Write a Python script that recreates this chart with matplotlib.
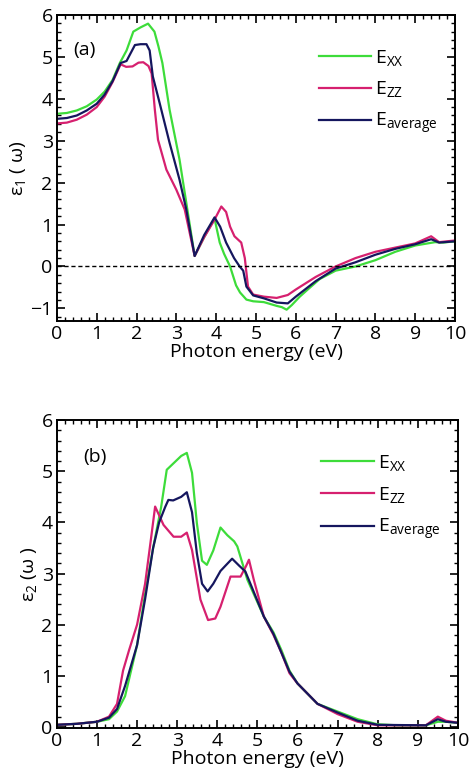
import matplotlib
matplotlib.use('Agg')
import matplotlib.pyplot as plt
from matplotlib.ticker import MultipleLocator

plt.rcParams['font.family'] = ['Open Sans', 'DejaVu Sans']
plt.rcParams['mathtext.default'] = 'regular'

# epsilon 1 (real part)
x1_xx = [0, 0.25, 0.5, 0.75, 1, 1.2, 1.4, 1.58, 1.75, 1.92, 2.1, 2.29, 2.45, 2.55, 2.65, 2.83, 3.08, 3.25, 3.46,
         3.7, 3.96, 4.09, 4.2, 4.35, 4.5, 4.6, 4.76, 4.93, 5.2, 5.52, 5.65, 5.77, 5.9, 6.1, 6.3, 6.6,
         7.0, 7.5, 8.0, 8.5, 9.0, 9.5, 9.7, 10]
e1_xx = [3.64, 3.66, 3.72, 3.82, 3.98, 4.17, 4.45, 4.85, 5.15, 5.6, 5.7, 5.79, 5.6, 5.25, 4.85, 3.74, 2.55, 1.52, 0.25,
         0.7, 1.14, 0.57, 0.3, 0.0, -0.45, -0.62, -0.79, -0.83, -0.85, -0.94, -0.97, -1.03, -0.92, -0.72, -0.55, -0.3,
         -0.1, 0.0, 0.15, 0.35, 0.5, 0.58, 0.57, 0.6]

x1_zz = [0, 0.25, 0.5, 0.75, 1, 1.2, 1.4, 1.6, 1.74, 1.9, 2.05, 2.17, 2.3, 2.38, 2.46, 2.54, 2.75, 3.0, 3.21, 3.46,
         3.7, 3.95, 4.13, 4.25, 4.35, 4.46, 4.63, 4.72, 4.8, 4.93, 5.2, 5.52, 5.8, 6.0, 6.5,
         7.0, 7.5, 8.0, 8.5, 9.0, 9.4, 9.6, 10]
e1_zz = [3.41, 3.43, 3.5, 3.62, 3.8, 4.05, 4.4, 4.82, 4.76, 4.77, 4.86, 4.87, 4.78, 4.6, 3.74, 3.02, 2.31, 1.83, 1.36, 0.25,
         0.7, 1.1, 1.43, 1.3, 0.95, 0.72, 0.57, 0.2, -0.48, -0.67, -0.72, -0.75, -0.68, -0.55, -0.25,
         0.0, 0.2, 0.35, 0.45, 0.55, 0.72, 0.58, 0.62]

x1_av = [0, 0.25, 0.5, 0.75, 1, 1.2, 1.4, 1.6, 1.75, 1.96, 2.1, 2.25, 2.33, 2.41, 2.58, 2.83, 3.08, 3.25, 3.46,
         3.7, 3.96, 4.1, 4.25, 4.45, 4.59, 4.68, 4.76, 4.93, 5.2, 5.52, 5.8, 6.0, 6.5,
         7.0, 7.5, 8.0, 8.5, 9.0, 9.4, 9.6, 10]
e1_av = [3.52, 3.54, 3.6, 3.72, 3.88, 4.1, 4.42, 4.85, 4.9, 5.28, 5.3, 5.3, 5.15, 4.53, 3.9, 2.95, 2.07, 1.36, 0.25,
         0.75, 1.17, 0.95, 0.57, 0.2, 0.0, -0.1, -0.48, -0.69, -0.76, -0.86, -0.88, -0.72, -0.35,
         -0.05, 0.1, 0.28, 0.42, 0.53, 0.65, 0.57, 0.6]

# epsilon 2 (imaginary part)
x2_xx = [0, 0.5, 1, 1.3, 1.5, 1.7, 2.0, 2.2, 2.4, 2.6, 2.74, 2.9, 3.1, 3.24, 3.37, 3.49, 3.62, 3.74,
         3.9, 4.08, 4.25, 4.42, 4.5, 4.75, 5.16, 5.4, 5.6, 5.8, 6.0, 6.5, 7.0, 7.5, 8.0, 8.5,
         9.2, 9.5, 9.7, 10]
e2_xx = [0.04, 0.06, 0.1, 0.15, 0.3, 0.6, 1.6, 2.6, 3.5, 4.3, 5.03, 5.15, 5.3, 5.36, 4.97, 3.99, 3.25, 3.17,
         3.45, 3.9, 3.75, 3.63, 3.53, 2.88, 2.16, 1.85, 1.5, 1.1, 0.85, 0.45, 0.3, 0.15, 0.05, 0.03,
         0.03, 0.1, 0.1, 0.08]

x2_zz = [0, 0.5, 1, 1.3, 1.5, 1.65, 1.8, 2.0, 2.2, 2.35, 2.45, 2.66, 2.91, 3.1, 3.24, 3.37, 3.58,
         3.77, 3.95, 4.08, 4.33, 4.58, 4.72, 4.79, 4.91, 5.16, 5.4, 5.6, 5.8, 6.0, 6.5,
         7.0, 7.5, 8.0, 9.2, 9.5, 9.7, 10]
e2_zz = [0.04, 0.06, 0.1, 0.2, 0.45, 1.1, 1.5, 2.0, 2.8, 3.7, 4.31, 3.95, 3.72, 3.72, 3.8, 3.46, 2.49,
         2.09, 2.12, 2.35, 2.94, 2.94, 3.15, 3.27, 2.88, 2.16, 1.8, 1.45, 1.05, 0.85, 0.45,
         0.25, 0.1, 0.03, 0.03, 0.2, 0.12, 0.08]

x2_av = [0, 0.5, 1, 1.3, 1.5, 1.7, 2.0, 2.2, 2.4, 2.55, 2.7, 2.78, 2.9, 3.1, 3.24, 3.37, 3.49, 3.62, 3.76,
         3.9, 4.08, 4.2, 4.37, 4.55, 4.7, 4.8, 5.16, 5.4, 5.6, 5.8, 6.0, 6.5,
         7.0, 7.5, 8.0, 9.2, 9.5, 9.7, 10]
e2_av = [0.04, 0.06, 0.1, 0.18, 0.35, 0.8, 1.6, 2.5, 3.5, 4.0, 4.3, 4.44, 4.43, 4.5, 4.59, 4.2, 3.4, 2.8, 2.65,
         2.8, 3.05, 3.15, 3.29, 3.15, 3.04, 2.85, 2.16, 1.82, 1.45, 1.08, 0.85, 0.45,
         0.28, 0.12, 0.04, 0.03, 0.15, 0.1, 0.08]

labels = ['E$_{XX}$', 'E$_{ZZ}$', 'E$_{average}$']
colors = ['#3ddc3a', '#d6206f', '#15165e']

fig = plt.figure(figsize=(4.74, 7.81), dpi=100)
ax1 = fig.add_axes([0.120, 0.589, 0.840, 0.392])
ax2 = fig.add_axes([0.120, 0.068, 0.846, 0.394])


def style_axis(ax, ylim):
    ax.set_xlim(0, 10)
    ax.set_ylim(*ylim)
    ax.xaxis.set_major_locator(MultipleLocator(1))
    ax.xaxis.set_minor_locator(MultipleLocator(0.2))
    ax.yaxis.set_major_locator(MultipleLocator(1))
    ax.yaxis.set_minor_locator(MultipleLocator(0.2))
    ax.tick_params(which='both', direction='in', top=True, right=True, labelsize=14, pad=3)
    ax.tick_params(which='major', length=6, width=1.2)
    ax.tick_params(which='minor', length=3, width=1.0)
    for s in ax.spines.values():
        s.set_linewidth(1.4)
    ax.set_xlabel('Photon energy (eV)', fontsize=14, labelpad=0)
    ax.legend(loc='upper right', bbox_to_anchor=(1.0, 0.95), frameon=False, fontsize=14,
              handlelength=2.7, labelspacing=0.6, handletextpad=0.2)


for xs, ys, lab, c in zip([x1_xx, x1_zz, x1_av], [e1_xx, e1_zz, e1_av], labels, colors):
    ax1.plot(xs, ys, color=c, lw=1.6, label=lab)
ax1.axhline(0, color='black', ls='--', lw=1.0, dashes=(3, 2))
style_axis(ax1, (-1.3, 6))
ax1.set_ylabel('ε$_1$ ( ω)', fontsize=14, labelpad=2)
ax1.text(0.04, 0.87, '(a)', transform=ax1.transAxes, fontsize=14)

for xs, ys, lab, c in zip([x2_xx, x2_zz, x2_av], [e2_xx, e2_zz, e2_av], labels, colors):
    ax2.plot(xs, ys, color=c, lw=1.6, label=lab)
style_axis(ax2, (-0.02, 6))
ax2.set_ylabel('ε$_2$ (ω )', fontsize=14, labelpad=2)
ax2.text(0.065, 0.865, '(b)', transform=ax2.transAxes, fontsize=14)

fig.savefig('out.png', dpi=100)
